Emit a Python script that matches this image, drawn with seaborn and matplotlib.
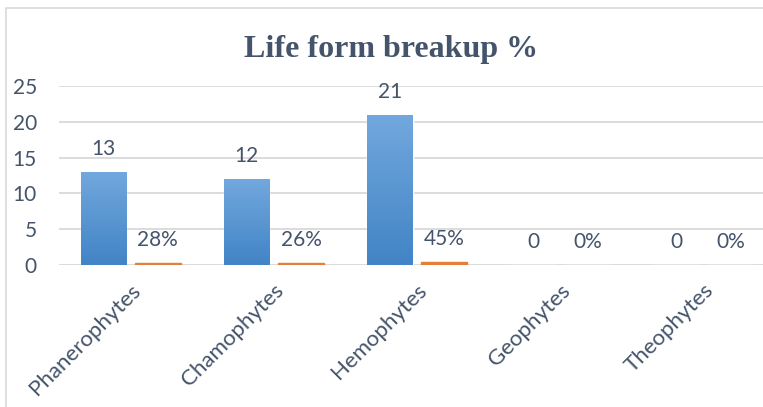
import numpy as np
import pandas as pd
import matplotlib
matplotlib.use("Agg")
import matplotlib.pyplot as plt
import seaborn as sns
from matplotlib.colors import LinearSegmentedColormap
from matplotlib.patches import Rectangle

categories = ["Phanerophytes", "Chamophytes", "Hemophytes", "Geophytes", "Theophytes"]
counts = [13, 12, 21, 0, 0]
shares = [0.28, 0.26, 0.45, 0.0, 0.0]
count_labels = ["13", "12", "21", "0", "0"]
share_labels = ["28%", "26%", "45%", "0%", "0%"]

df = pd.DataFrame({
    "form": categories * 2,
    "series": ["count"] * len(categories) + ["share"] * len(categories),
    "value": counts + shares,
})

sns.set_style("white")
plt.rcParams["font.family"] = ["Lato", "DejaVu Sans"]
txt = "#44546a"

fig = plt.figure(figsize=(7.63, 4.07), dpi=100)
ax = fig.add_axes([59 / 763, 1 - 265 / 407, 716 / 763, 179 / 407])

sns.barplot(data=df, x="form", y="value", hue="series", order=categories,
            palette={"count": "#5b9bd5", "share": "#ed7d31"},
            width=0.76, gap=0.16, legend=False, ax=ax, zorder=3)

# gradient fill on the blue bars
cmap = LinearSegmentedColormap.from_list("blu", ["#4284c6", "#72a8dd"])
grad = np.linspace(0, 1, 100).reshape(-1, 1)
for bar in ax.containers[0]:
    x0, y0 = bar.get_x(), bar.get_y()
    w, h = bar.get_width(), bar.get_height()
    if h <= 0:
        continue
    im = ax.imshow(grad, cmap=cmap, origin="lower", aspect="auto",
                   extent=(x0, x0 + w, y0, y0 + h), zorder=4)
    im.set_clip_path(bar)

# orange bars are very short, give them a visible edge
for bar in ax.containers[1]:
    if bar.get_height() > 0:
        bar.set_edgecolor("#ed7d31")
        bar.set_linewidth(1.0)

for cont, labs in zip(ax.containers, [count_labels, share_labels]):
    for bar, lab in zip(cont, labs):
        ax.annotate(lab, (bar.get_x() + bar.get_width() / 2, bar.get_height()),
                    xytext=(0, 16.5), textcoords="offset points",
                    ha="center", va="center", fontsize=15, color=txt)

ax.set_xlim(-0.5, 4.5)
ax.set_ylim(0, 25)
ax.set_yticks([0, 5, 10, 15, 20, 25])
ax.yaxis.grid(True, color="#d9d9d9", linewidth=1.3, zorder=0)
ax.set_axisbelow(True)
sns.despine(ax=ax, left=True, bottom=True)
ax.set_xlabel("")
ax.set_ylabel("")
ax.tick_params(axis="y", length=0, labelsize=15, labelcolor=txt, pad=16)
ax.tick_params(axis="x", length=0, labelsize=16, labelcolor=txt, pad=11)
for lab in ax.get_xticklabels():
    lab.set_rotation(45)
    lab.set_ha("right")
    lab.set_va("top")
    lab.set_rotation_mode("anchor")

fig.text(391 / 763, 1 - 49 / 407, "Life form breakup %", ha="center", va="center",
         fontsize=23, fontweight="bold", family="Liberation Serif", color=txt)

fig.patches.append(Rectangle((6 / 763, -0.1), 1.2, 1.1 - 8 / 407,
                             transform=fig.transFigure, fill=False,
                             edgecolor="#d9d9d9", linewidth=1.2))

fig.savefig("out.png", dpi=100)
